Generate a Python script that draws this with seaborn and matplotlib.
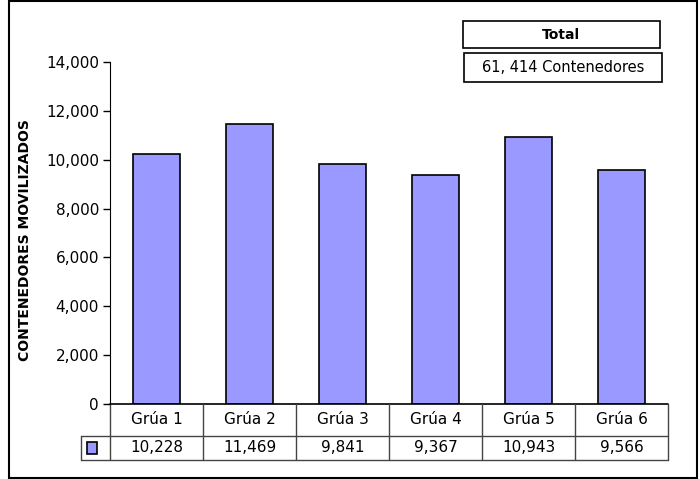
import seaborn as sns
import matplotlib.pyplot as plt
from matplotlib.patches import Rectangle
from matplotlib.ticker import FuncFormatter
import pandas as pd

gruas = ["Grúa 1", "Grúa 2", "Grúa 3", "Grúa 4", "Grúa 5", "Grúa 6"]
contenedores = [10228, 11469, 9841, 9367, 10943, 9566]
total_txt = "61, 414 Contenedores"

color_barra = "#9999FF"
W, H = 700, 479

sns.set_style("white")
plt.rcParams["font.family"] = ["DejaVu Sans"]
plt.rcParams["text.color"] = "black"
plt.rcParams["axes.labelcolor"] = "black"
plt.rcParams["ytick.color"] = "black"
plt.rcParams["xtick.color"] = "black"

df = pd.DataFrame({"grua": gruas, "valor": contenedores})

fig = plt.figure(figsize=(7, 4.79), dpi=100)
ax = fig.add_axes([110 / W, 1 - 404 / H, (668 - 110) / W, (404 - 62) / H])

sns.barplot(data=df, x="grua", y="valor", color=color_barra, edgecolor="black",
            linewidth=1.2, width=0.5, saturation=1, ax=ax)

ax.set_xlim(-0.5, len(gruas) - 0.5)
ax.set_ylim(0, 14000)
ax.set_yticks(range(0, 14001, 2000))
ax.yaxis.set_major_formatter(FuncFormatter(lambda v, p: f"{int(v):,}"))
ax.tick_params(axis="y", left=True, length=5, width=1, direction="out",
               labelsize=11, pad=3, color="black", labelcolor="black")
ax.set_xticks([])
ax.set_xlabel("")
ax.set_ylabel("CONTENEDORES MOVILIZADOS", fontsize=10, fontweight="bold", color="black")
ax.yaxis.set_label_coords(-78 / 558, 0.48)
for s in ["top", "right", "bottom"]:
    ax.spines[s].set_visible(False)
ax.spines["left"].set_color("black")

# tabla de datos bajo el eje
tr = ax.get_xaxis_transform()
r1 = -32 / 342
r2 = -56 / 342
n = len(gruas)
lc = "#444444"
kw = dict(transform=tr, clip_on=False, color=lc, lw=1)
ax.plot([-0.5, n - 0.5], [0, 0], transform=tr, clip_on=False, color="black", lw=1.2)
ax.plot([-0.81, n - 0.5], [r1, r1], **kw)
ax.plot([-0.81, n - 0.5], [r2, r2], **kw)
ax.plot([-0.81, -0.81], [r1, r2], **kw)
for i in range(n + 1):
    ax.plot([i - 0.5, i - 0.5], [0, r2], **kw)
for i, (g, v) in enumerate(zip(gruas, contenedores)):
    ax.text(i, r1 / 2, g, transform=tr, ha="center", va="center", fontsize=11)
    ax.text(i, (r1 + r2) / 2, f"{v:,}", transform=tr, ha="center", va="center", fontsize=11)
ax.add_patch(Rectangle((-0.745, (r1 + r2) / 2 - 0.017), 0.11, 0.034, transform=tr,
                       facecolor=color_barra, edgecolor="black", lw=1.2, clip_on=False))

# cuadro del total
fig.patches.append(Rectangle((463 / W, 1 - 48 / H), 197 / W, 27 / H, transform=fig.transFigure,
                             facecolor="white", edgecolor="black", lw=1.2))
fig.patches.append(Rectangle((464 / W, 1 - 82 / H), 198 / W, 29 / H, transform=fig.transFigure,
                             facecolor="white", edgecolor="black", lw=1.2))
fig.text(561 / W, 1 - 35 / H, "Total", ha="center", va="center", fontsize=10, fontweight="bold")
fig.text(563 / W, 1 - 67 / H, total_txt, ha="center", va="center", fontsize=10.5)

# marco exterior
fig.patches.append(Rectangle((9 / W, 1 / H), 688 / W, 477 / H, transform=fig.transFigure,
                             facecolor="none", edgecolor="black", lw=1.5))

fig.savefig("out.png", dpi=100)
